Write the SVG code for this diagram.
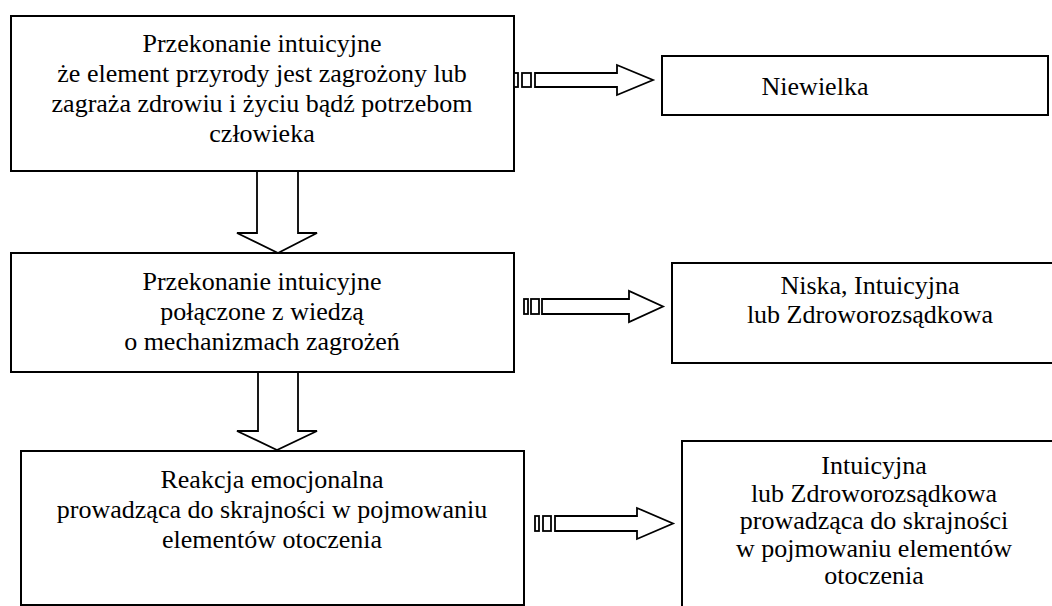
<svg xmlns="http://www.w3.org/2000/svg" width="1052" height="606" viewBox="0 0 1052 606">
  <style>
    .box { fill: #fff; stroke: #000; stroke-width: 2; }
    .arr { fill: #fff; stroke: #000; stroke-width: 1.8; stroke-linejoin: miter; }
    .t { font-family: "Liberation Serif", "Times New Roman", serif; font-size: 26px; fill: #000; text-anchor: middle; }
  </style>
  <rect width="1052" height="606" fill="#fff"/>

  <g id="node-belief">
    <rect class="box" x="11" y="16" width="503" height="155"/>
    <text class="t" x="262" y="52">Przekonanie intuicyjne</text>
    <text class="t" x="262" y="82">że element przyrody jest zagrożony lub</text>
    <text class="t" x="262" y="112">zagraża zdrowiu i życiu bądź potrzebom</text>
    <text class="t" x="262" y="142">człowieka</text>
  </g>

  <g id="node-small">
    <rect class="box" x="662" y="56" width="386" height="59"/>
    <text class="t" x="815" y="95">Niewielka</text>
  </g>

  <g id="node-knowledge">
    <rect class="box" x="11" y="253" width="503" height="119"/>
    <text class="t" x="262" y="290">Przekonanie intuicyjne</text>
    <text class="t" x="262" y="320">połączone z wiedzą</text>
    <text class="t" x="262" y="350">o mechanizmach zagrożeń</text>
  </g>

  <g id="node-low">
    <rect class="box" x="672" y="263" width="420" height="100"/>
    <text class="t" x="870" y="294">Niska, Intuicyjna</text>
    <text class="t" x="870" y="323">lub Zdroworozsądkowa</text>
  </g>

  <g id="node-extreme">
    <rect class="box" x="682" y="441" width="420" height="200"/>
    <text class="t" x="874" y="474">Intuicyjna</text>
    <text class="t" x="874" y="501.5">lub Zdroworozsądkowa</text>
    <text class="t" x="874" y="529">prowadząca do skrajności</text>
    <text class="t" x="874" y="556.5">w pojmowaniu elementów</text>
    <text class="t" x="874" y="584">otoczenia</text>
  </g>

  <g id="node-emotion">
    <rect class="box" x="21" y="451" width="503" height="154"/>
    <text class="t" x="272" y="488">Reakcja emocjonalna</text>
    <text class="t" x="272" y="518">prowadząca do skrajności w pojmowaniu</text>
    <text class="t" x="272" y="548">elementów otoczenia</text>
  </g>

  <g id="connectors">
    <!-- block arrows down between the left column boxes -->
    <polygon class="arr" points="257,171 298,171 298,233 317,233 278,253 237,233 257,233"/>
    <polygon class="arr" points="258,372 298,372 298,431 317,431 277,450 237,431 258,431"/>

    <!-- striped block arrows to the right -->
    <rect class="arr" x="514" y="73" width="4" height="14"/>
    <rect class="arr" x="522" y="73" width="9" height="14"/>
    <polygon class="arr" points="535,73 617,73 617,65 653,80 617,95 617,87 535,87"/>

    <rect class="arr" x="524" y="299" width="4" height="15"/>
    <rect class="arr" x="531" y="299" width="8" height="15"/>
    <polygon class="arr" points="542,299 629,299 629,291 663,306.5 629,322 629,314 542,314"/>

    <rect class="arr" x="535" y="516" width="4" height="15"/>
    <rect class="arr" x="543" y="516" width="8" height="15"/>
    <polygon class="arr" points="555,516 637,516 637,508 673,523.5 637,539 637,531 555,531"/>
  </g>
</svg>
